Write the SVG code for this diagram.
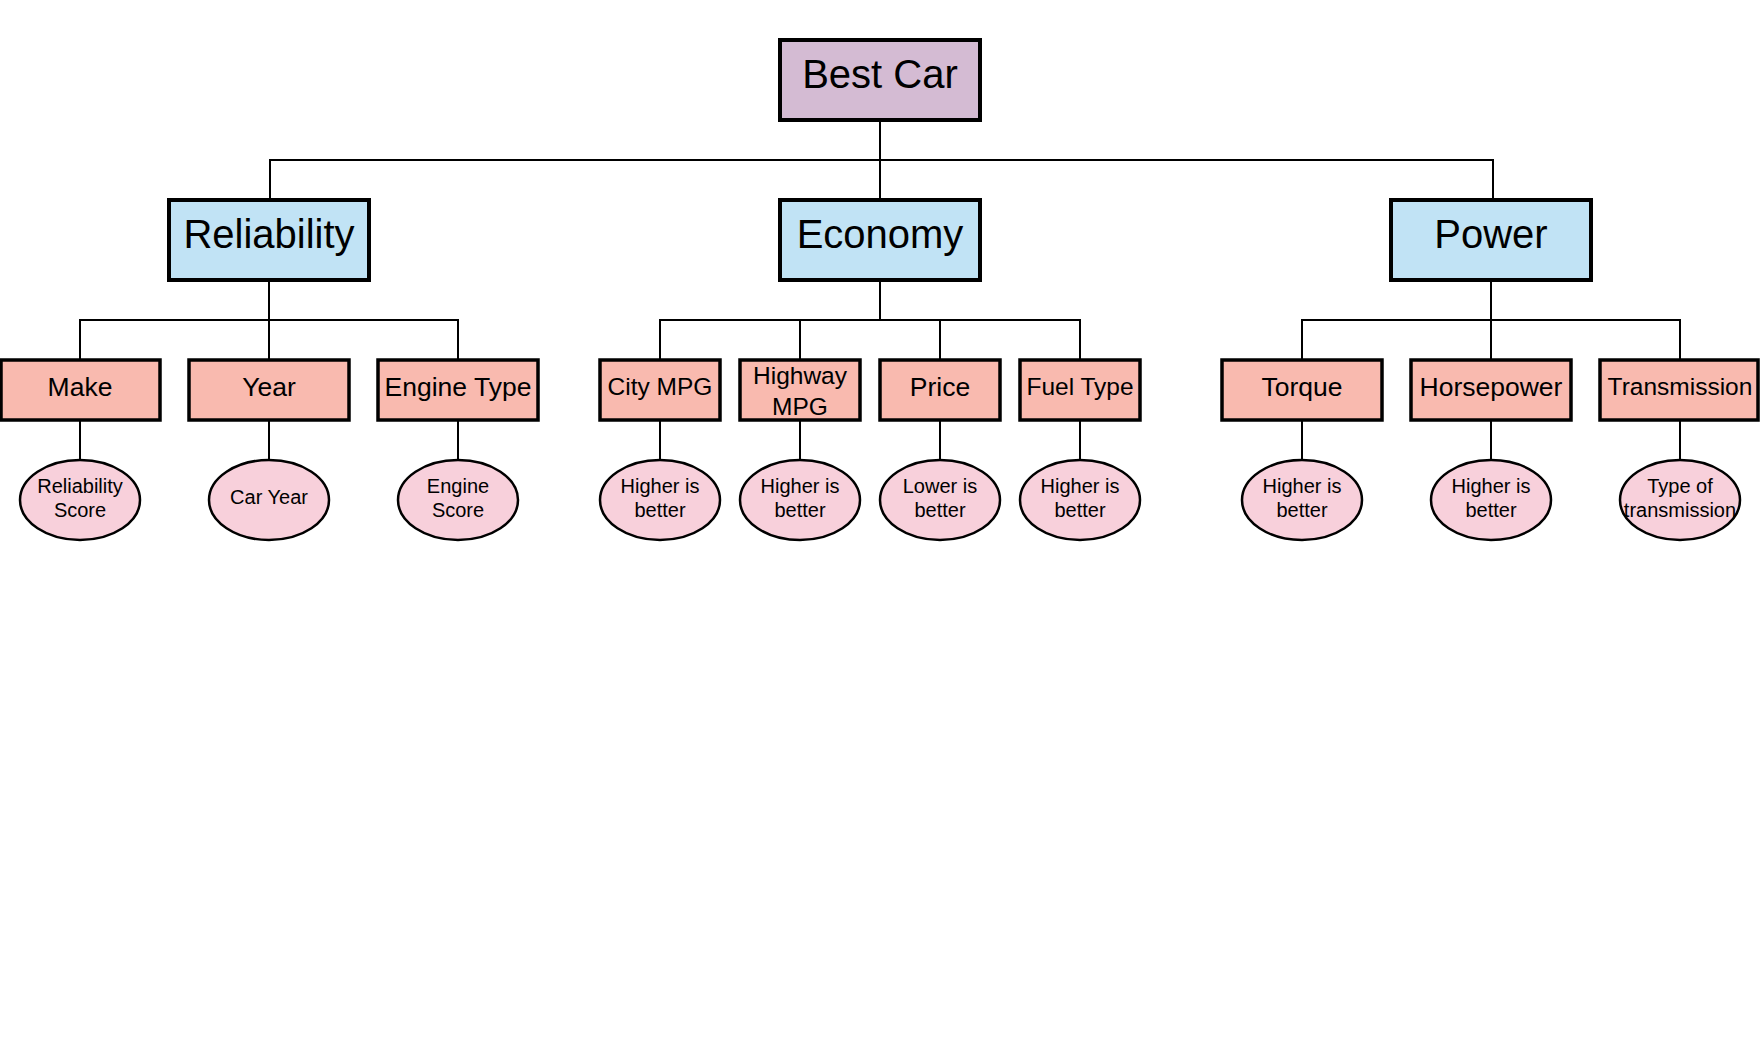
<svg xmlns="http://www.w3.org/2000/svg" width="1760" height="1040" viewBox="0 0 1760 1040">
<style>
text{font-family:"Liberation Sans",Arial,sans-serif;fill:#000;text-anchor:middle}
.root{fill:#D4BBD3;stroke:#000;stroke-width:4}
.cat{fill:#C1E3F5;stroke:#000;stroke-width:4}
.leaf{fill:#F9BAAF;stroke:#000;stroke-width:3.5}
.ell{fill:#F8D0DB;stroke:#000;stroke-width:2.5}
.t1{font-size:40px}
.t2{font-size:26.5px}
.t2s{font-size:24.5px}
.t3{font-size:20px}
.conn path{fill:none;stroke:#000;stroke-width:2}
</style>
<rect width="1760" height="1040" fill="#fff"/>
<g class="conn">
<path d="M880,120V160H270V200"/>
<path d="M880,120V200"/>
<path d="M880,120V160H1493V200"/>
<path d="M269,280V320H80V360"/>
<path d="M269,280V360"/>
<path d="M269,280V320H458V360"/>
<path d="M880,280V320H660V360"/>
<path d="M880,280V320H800V360"/>
<path d="M880,280V320H940V360"/>
<path d="M880,280V320H1080V360"/>
<path d="M1491,280V320H1302V360"/>
<path d="M1491,280V360"/>
<path d="M1491,280V320H1680V360"/>
<path d="M80,420V460"/>
<path d="M269,420V460"/>
<path d="M458,420V460"/>
<path d="M660,420V460"/>
<path d="M800,420V460"/>
<path d="M940,420V460"/>
<path d="M1080,420V460"/>
<path d="M1302,420V460"/>
<path d="M1491,420V460"/>
<path d="M1680,420V460"/>
</g>
<g id="best-car"><rect class="root" x="780" y="40" width="200" height="80"/><text class="t1" x="880" y="88">Best Car</text></g>
<g id="reliability"><rect class="cat" x="169" y="200" width="200" height="80"/><text class="t1" x="269" y="248">Reliability</text></g>
<g id="economy"><rect class="cat" x="780" y="200" width="200" height="80"/><text class="t1" x="880" y="248">Economy</text></g>
<g id="power"><rect class="cat" x="1391" y="200" width="200" height="80"/><text class="t1" x="1491" y="248">Power</text></g>

<g id="make"><rect class="leaf" x="1" y="360" width="159" height="60"/><text class="t2" x="80" y="396">Make</text></g>
<g id="year"><rect class="leaf" x="189" y="360" width="160" height="60"/><text class="t2" x="269" y="396">Year</text></g>
<g id="engine-type"><rect class="leaf" x="378" y="360" width="160" height="60"/><text class="t2" x="458" y="396">Engine Type</text></g>
<g id="city-mpg"><rect class="leaf" x="600" y="360" width="120" height="60"/><text class="t2s" x="660" y="395">City MPG</text></g>
<g id="highway-mpg"><rect class="leaf" x="740" y="360" width="120" height="60"/><text class="t2s" x="800" y="384">Highway</text><text class="t2s" x="800" y="415">MPG</text></g>
<g id="price"><rect class="leaf" x="880" y="360" width="120" height="60"/><text class="t2" x="940" y="396">Price</text></g>
<g id="fuel-type"><rect class="leaf" x="1020" y="360" width="120" height="60"/><text class="t2s" x="1080" y="395">Fuel Type</text></g>
<g id="torque"><rect class="leaf" x="1222" y="360" width="160" height="60"/><text class="t2" x="1302" y="396">Torque</text></g>
<g id="horsepower"><rect class="leaf" x="1411" y="360" width="160" height="60"/><text class="t2" x="1491" y="396">Horsepower</text></g>
<g id="transmission"><rect class="leaf" x="1600" y="360" width="158" height="60"/><text x="1680" y="395" style="font-size:24.5px">Transmission</text></g>

<g id="reliability-score"><ellipse class="ell" cx="80" cy="500" rx="60" ry="40"/><text class="t3" x="80" y="493">Reliability</text><text class="t3" x="80" y="517">Score</text></g>
<g id="car-year"><ellipse class="ell" cx="269" cy="500" rx="60" ry="40"/><text class="t3" x="269" y="504">Car Year</text></g>
<g id="engine-score"><ellipse class="ell" cx="458" cy="500" rx="60" ry="40"/><text class="t3" x="458" y="493">Engine</text><text class="t3" x="458" y="517">Score</text></g>
<g id="city-mpg-note"><ellipse class="ell" cx="660" cy="500" rx="60" ry="40"/><text class="t3" x="660" y="493">Higher is</text><text class="t3" x="660" y="517">better</text></g>
<g id="highway-mpg-note"><ellipse class="ell" cx="800" cy="500" rx="60" ry="40"/><text class="t3" x="800" y="493">Higher is</text><text class="t3" x="800" y="517">better</text></g>
<g id="price-note"><ellipse class="ell" cx="940" cy="500" rx="60" ry="40"/><text class="t3" x="940" y="493">Lower is</text><text class="t3" x="940" y="517">better</text></g>
<g id="fuel-type-note"><ellipse class="ell" cx="1080" cy="500" rx="60" ry="40"/><text class="t3" x="1080" y="493">Higher is</text><text class="t3" x="1080" y="517">better</text></g>
<g id="torque-note"><ellipse class="ell" cx="1302" cy="500" rx="60" ry="40"/><text class="t3" x="1302" y="493">Higher is</text><text class="t3" x="1302" y="517">better</text></g>
<g id="horsepower-note"><ellipse class="ell" cx="1491" cy="500" rx="60" ry="40"/><text class="t3" x="1491" y="493">Higher is</text><text class="t3" x="1491" y="517">better</text></g>
<g id="transmission-note"><ellipse class="ell" cx="1680" cy="500" rx="60" ry="40"/><text class="t3" x="1680" y="493">Type of</text><text class="t3" x="1680" y="517">transmission</text></g>
</svg>
